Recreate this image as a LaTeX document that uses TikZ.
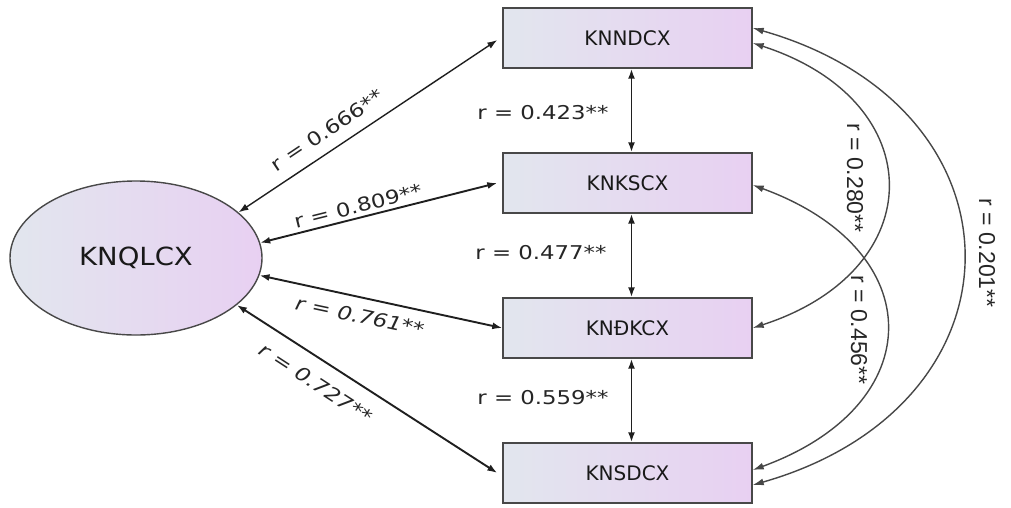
\documentclass[tikz,border=0pt]{standalone}
\usepackage{graphicx}
\usepackage{fontspec}
\setmainfont{DejaVu Sans}
\newfontfamily\arialf{Liberation Sans}
\usetikzlibrary{arrows.meta,shapes.geometric}
\definecolor{fillL}{HTML}{E2E6EE}
\definecolor{fillR}{HTML}{E8D0F2}
\definecolor{edgec}{HTML}{484848}
\begin{document}
\begin{tikzpicture}[x=1pt,y=-1pt,
  box/.style={draw=edgec, line width=1.4pt, left color=fillL, right color=fillR,
    minimum width=249pt, minimum height=60pt, inner sep=0pt,
    font=\fontsize{20}{24}\selectfont, text=black!90},
  latent/.style={ellipse, draw=edgec, line width=1.4pt, left color=fillL, right color=fillR,
    minimum width=252pt, minimum height=154pt, inner sep=0pt,
    font=\fontsize{25}{30}\selectfont, text=black!90},
  link/.style={{Latex[length=10pt,width=7pt]}-{Latex[length=10pt,width=7pt]}, line width=1.9pt, draw=black!88},
  thinlink/.style={link, line width=1.4pt},
  curvelink/.style={{Latex[length=11pt,width=7pt]}-{Latex[length=11pt,width=7pt]}, line width=1.4pt, draw=black!72},
  lbl/.style={font=\fontsize{19}{22}\selectfont, inner sep=0pt, text=black!85},
  ilbl/.style={font=\fontsize{19}{22}\selectfont\itshape, inner sep=0pt, text=black!85},
  rlbl/.style={font=\arialf\fontsize{23}{26}\selectfont, inner sep=0pt, rotate=-90, text=black!85}
]
\useasboundingbox (0,0) rectangle (1011,507);

\node[latent] (E) at (136,258) {\scalebox{1.1}[1]{KNQLCX}};
\node[box] (nd) at (627.5,38) {KNNDCX};
\node[box] (ks) at (627.5,183) {KNKSCX};
\node[box] (dk) at (627.5,328) {KNĐKCX};
\node[box] (sd) at (627.5,473) {KNSDCX};

% latent to boxes
\draw[thinlink] (E.24) -- ([xshift=-5pt,yshift=-2pt]nd.west);
\draw[link] (E.7) -- ([xshift=-5pt]ks.west);
\draw[link] (E.-8) -- (dk.west);
\draw[link] (E.-25) -- ([xshift=-5pt]sd.west);

\node[lbl, rotate=33.7] (l1) at (327,130) {\scalebox{1.2}[1]{r = 0.666**}};
\node[lbl, rotate=14] (l2) at (358,206) {\scalebox{1.2}[1]{r = 0.809**}};
\node[ilbl, rotate=-12] (l3) at (360,316) {\scalebox{1.2}[1]{r = 0.761**}};
\node[ilbl, rotate=-33] (l4) at (316,383) {\scalebox{1.2}[1]{r = 0.727**}};

% vertical links
\draw[link] ([xshift=4pt]nd.south) -- ([xshift=4pt]ks.north);
\draw[link] ([xshift=4pt]ks.south) -- ([xshift=4pt]dk.north);
\draw[link] ([xshift=4pt]dk.south) -- ([xshift=4pt]sd.north);

\node[lbl] (v1) at (543,113) {\scalebox{1.2}[1]{r = 0.423**}};
\node[lbl] (v2) at (541,253) {\scalebox{1.2}[1]{r = 0.477**}};
\node[lbl] (v3) at (543,398) {\scalebox{1.2}[1]{r = 0.559**}};

% right curved links
\draw[curvelink] ([yshift=10pt]nd.east) .. controls +(280,80) and +(280,-80) .. ([yshift=-12pt]sd.east);
\draw[curvelink] ([yshift=-5pt]nd.east) .. controls +(179,58) and +(179,-58) .. (dk.east);
\draw[curvelink] ([yshift=-2pt]ks.east) .. controls +(178,65) and +(178,-65) .. ([yshift=3pt]sd.east);

\node[rlbl] (c1) at (855,178) {r = 0.280**};
\node[rlbl] (c2) at (859,330) {r = 0.456**};
\node[rlbl] (c3) at (987,253) {r = 0.201**};
\end{tikzpicture}
\end{document}
